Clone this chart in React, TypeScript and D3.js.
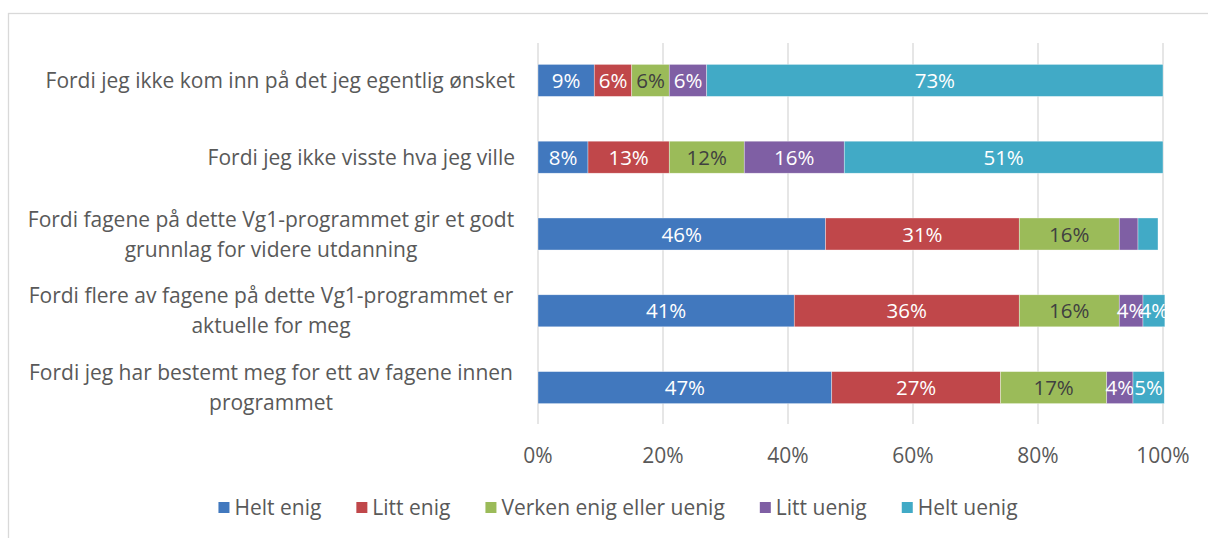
import React, { useRef, useEffect } from "react";
import * as d3 from "d3";

const categories = [
  "Fordi jeg ikke kom inn på det jeg egentlig ønsket",
  "Fordi jeg ikke visste hva jeg ville",
  "Fordi fagene på dette Vg1-programmet gir et godt\ngrunnlag for videre utdanning",
  "Fordi flere av fagene på dette Vg1-programmet er\naktuelle for meg",
  "Fordi jeg har bestemt meg for ett av fagene innen\nprogrammet",
];

const seriesNames = ["Helt enig", "Litt enig", "Verken enig eller uenig", "Litt uenig", "Helt uenig"];

const heltEnig = [9, 8, 46, 41, 47];
const littEnig = [6, 13, 31, 36, 27];
const verken = [6, 12, 16, 16, 17];
const littUenig = [6, 16, 3, 3.8, 4.2];
const heltUenig = [73, 51, 3.2, 3.5, 5];

const xTicks = [0, 20, 40, 60, 80, 100];

const colors = ["#4178BE", "#C0474A", "#9BBB59", "#7F5FA4", "#41AAC6"];
const labelColors = ["#ffffff", "#ffffff", "#404040", "#ffffff", "#ffffff"];

const FONT = "'Open Sans', Lato, sans-serif";

const App = () => {
  const svgRef = useRef<SVGSVGElement>(null);

  useEffect(() => {
    const svg = d3.select(svgRef.current);
    svg.selectAll("*").remove();
    const width = 1208;
    const height = 538;

    const values = [heltEnig, littEnig, verken, littUenig, heltUenig];

    // chart frame
    svg
      .append("rect")
      .attr("x", 8.5)
      .attr("y", 13.5)
      .attr("width", width + 20)
      .attr("height", height + 20)
      .attr("fill", "#fff")
      .attr("stroke", "#d9d9d9")
      .attr("stroke-width", 1.3);

    const x = d3.scaleLinear().domain([0, 100]).range([538, 1163]);
    const y = d3
      .scaleBand()
      .domain(categories)
      .range([42, 426])
      .paddingInner(0.583)
      .paddingOuter(0.2915);

    // gridlines
    svg
      .append("g")
      .selectAll("line")
      .data(xTicks)
      .join("line")
      .attr("x1", (d) => x(d))
      .attr("x2", (d) => x(d))
      .attr("y1", 43)
      .attr("y2", 424)
      .attr("stroke", "#d9d9d9")
      .attr("stroke-width", 1.3);

    // tick labels
    svg
      .append("g")
      .selectAll("text")
      .data(xTicks)
      .join("text")
      .attr("x", (d) => x(d))
      .attr("y", 463)
      .attr("text-anchor", "middle")
      .attr("font-family", FONT)
      .attr("font-size", 21)
      .attr("fill", "#595959")
      .text((d) => `${d}%`);

    // stacked bars
    const rows = categories.map((c, i) => {
      let acc = 0;
      return values.map((s, k) => {
        const seg = { cat: c, k, v: s[i], x0: acc, x1: acc + s[i] };
        acc += s[i];
        return seg;
      });
    });

    const bars = svg.append("g");
    rows.flat().forEach((seg) => {
      bars
        .append("rect")
        .attr("x", x(seg.x0))
        .attr("y", y(seg.cat)!)
        .attr("width", x(seg.x1) - x(seg.x0))
        .attr("height", y.bandwidth())
        .attr("fill", colors[seg.k])
        .attr("stroke", "#ffffff")
        .attr("stroke-opacity", 0.6)
        .attr("stroke-width", 0.6);
      if (Math.round(seg.v) >= 4) {
        bars
          .append("text")
          .attr("x", (x(seg.x0) + x(seg.x1)) / 2)
          .attr("y", y(seg.cat)! + y.bandwidth() / 2 + 7.5)
          .attr("text-anchor", "middle")
          .attr("font-family", FONT)
          .attr("font-size", 20.5)
          .attr("fill", labelColors[seg.k])
          .text(`${Math.round(seg.v)}%`);
      }
    });

    // category labels
    const catG = svg.append("g");
    categories.forEach((c) => {
      const lines = c.split("\n");
      const cy = y(c)! + y.bandwidth() / 2;
      const lh = 30;
      lines.forEach((ln, j) => {
        catG
          .append("text")
          .attr("x", lines.length > 1 ? 271 : 515)
          .attr("text-anchor", lines.length > 1 ? "middle" : "end")
          .attr("y", cy + 7.5 + (j - (lines.length - 1) / 2) * lh)
          .attr("font-family", FONT)
          .attr("font-size", 21)
          .attr("fill", "#595959")
          .text(ln);
      });
    });

    // legend
    const leg = svg.append("g");
    const items = seriesNames.map((name, k) => {
      const g = leg.append("g");
      g.append("rect")
        .attr("x", 0)
        .attr("y", -13)
        .attr("width", 11)
        .attr("height", 11)
        .attr("fill", colors[k]);
      const t = g
        .append("text")
        .attr("x", 16)
        .attr("y", 0)
        .attr("font-family", FONT)
        .attr("font-size", 21)
        .attr("fill", "#595959")
        .text(name);
      const w = 16 + (t.node() as SVGTextElement).getComputedTextLength();
      return { g, w };
    });
    const gap = 35;
    const total = d3.sum(items, (d) => d.w) + gap * (items.length - 1);
    let lx = 618 - total / 2;
    items.forEach((it) => {
      it.g.attr("transform", `translate(${lx},515)`);
      lx += it.w + gap;
    });
  }, []);

  return (
    <div style={{ position: "absolute", left: 0, top: 0 }}>
      <svg ref={svgRef} width={1208} height={538} style={{ display: "block" }}></svg>
    </div>
  );
};

export default App;
